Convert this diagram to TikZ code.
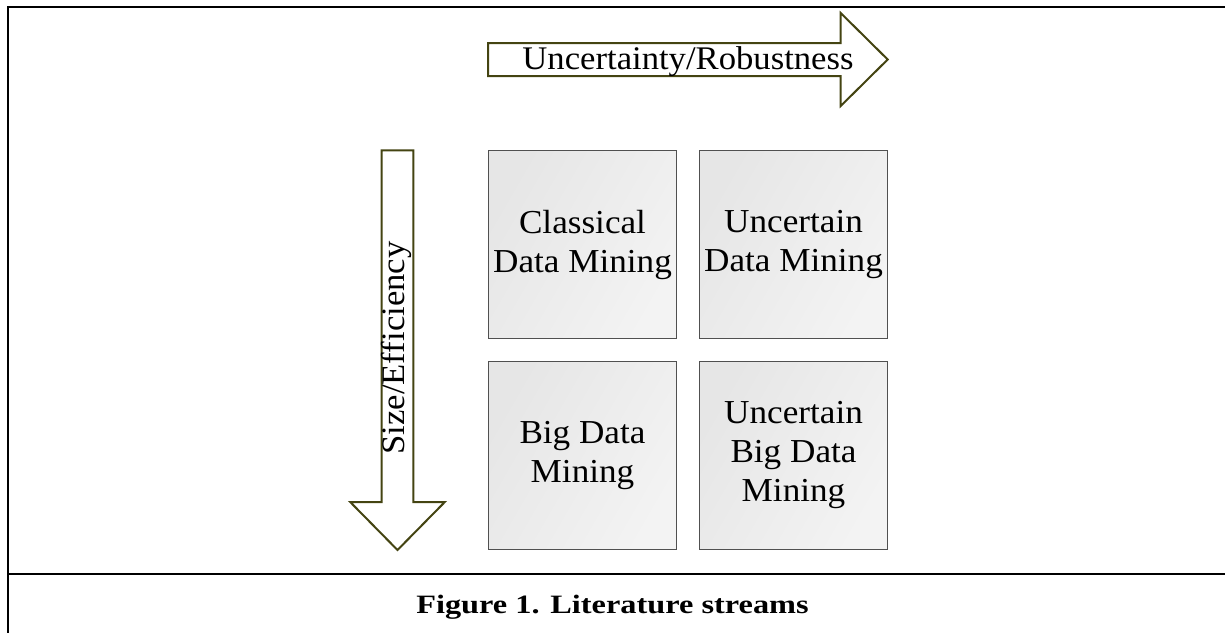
\documentclass[tikz,border=0pt]{standalone}
\usepackage{fontspec}
\setmainfont{Liberation Serif}[FakeStretch=1.05]
\newfontfamily\capfont{Liberation Serif}[FakeStretch=1.22]
\definecolor{framecol}{RGB}{0,0,0}
\definecolor{arrowcol}{RGB}{68,68,18}
\definecolor{boxline}{RGB}{80,80,80}
\definecolor{boxA}{RGB}{230,230,230}
\definecolor{boxB}{RGB}{243,243,243}
\begin{document}
\begin{tikzpicture}[x=1pt,y=-1pt,
  frameline/.style={draw=framecol,line width=2.4pt},
  bigarrow/.style={draw=arrowcol,fill=white,line width=2pt,line join=miter},
  arrowlabel/.style={font=\fontsize{33}{39}\selectfont,inner sep=0pt,anchor=base},
  cell/.style={draw=boxline,line width=1.6pt,left color=boxA,right color=boxB,
    shading angle=60,minimum width=188pt,minimum height=188pt,inner sep=0pt,
    align=center,font=\fontsize{33.5}{39}\selectfont},
  captext/.style={font=\capfont\bfseries\fontsize{26.5}{30}\selectfont,inner sep=0pt,anchor=base}]
\useasboundingbox (0,0) rectangle (1225,633);
% frame
\coordinate (ftr) at (1225,7);
\coordinate (ftl) at (8,7);
\coordinate (fbl) at (8,633);
\coordinate (sl) at (8,574);
\coordinate (sr) at (1225,574);
\draw[frameline] (ftr) -- (ftl) -- (fbl);
\draw[frameline] (sl) -- (sr);
% horizontal arrow
\draw[bigarrow] (488,43) -- (840.7,43) -- (840.7,13) -- (887.7,59.5) -- (840.7,106) -- (840.7,76) -- (488,76) -- cycle;
\node[arrowlabel] (hlab) at (688,69.3) {Uncertainty/Robustness};
% vertical arrow
\draw[bigarrow] (381.7,150.3) -- (413.3,150.3) -- (413.3,502) -- (444.8,502) -- (397.5,550) -- (350.2,502) -- (381.7,502) -- cycle;
\node[arrowlabel,rotate=90] (vlab) at (404,348) {Size/Efficiency};
% cells
\node[cell] (c11) at (582.5,244.5) {Classical\\Data Mining};
\node[cell] (c12) at (793.5,244.5) {Uncertain\\Data Mining};
\node[cell] (c21) at (582.5,455.5) {Big Data\\Mining};
\node[cell] (c22) at (793.5,455.5) {Uncertain\\Big Data\\Mining};
% caption
\node[captext] (cap) at (612.5,613.3) {Figure 1. Literature streams};
\end{tikzpicture}
\end{document}
